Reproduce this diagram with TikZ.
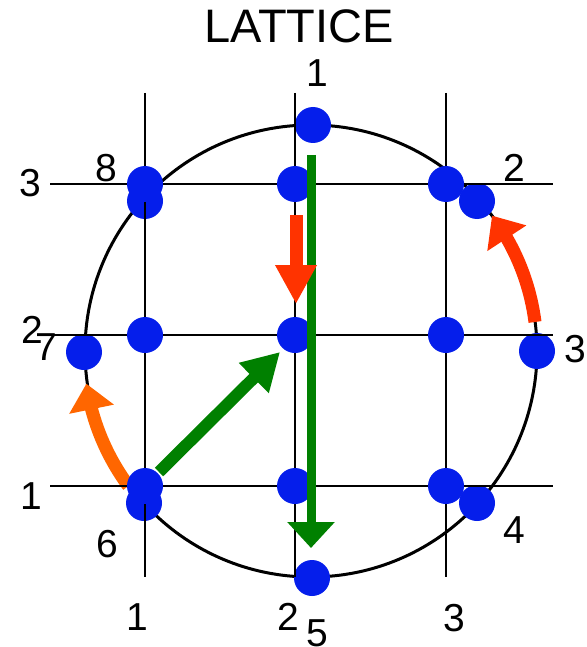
\documentclass[tikz,border=0pt]{standalone}
\usepackage{fontspec}
\setmainfont{Liberation Sans}
\usetikzlibrary{arrows.meta, bending}

\definecolor{siteblue}{RGB}{5,30,235}
\definecolor{arrgreen}{RGB}{0,128,0}
\definecolor{arrred}{RGB}{255,51,0}
\definecolor{arrorange}{RGB}{255,102,0}

\begin{document}
\begin{tikzpicture}[x=1pt, y=-1pt,
    every node/.style={font=\fontsize{39}{39}\selectfont, inner sep=0pt},
    site/.style={circle, fill=siteblue, minimum size=36pt},
    gridline/.style={line width=2pt},
    ring/.style={line width=3pt}]
  \useasboundingbox (0,0) rectangle (586,647);

  % circle and hops along it
  \draw[ring] (311,351) circle[radius=226];
  \coordinate (rstart) at (535,322);
  \coordinate (ostart) at (128.5,486);
  \draw[line width=13pt, arrred, -{Triangle[length=27pt, width=45pt]}] (rstart) arc[start angle=-7.3, end angle=-36.7, radius=226];
  \draw[line width=13pt, arrorange, -{Triangle[length=26pt, width=44pt]}] (ostart) arc[start angle=143.5, end angle=171.7, radius=227];

  % points on the circle
  \node[site] (c1) at (313,125) {};
  \node[site] (c2) at (477,201) {};
  \node[site] (c3) at (537,351) {};
  \node[site] (c4) at (477,503) {};
  \node[site] (c5) at (312,578) {};
  \node[site] (c6) at (144,503) {};
  \node[site] (c7) at (84,352) {};
  \node[site] (c8) at (145,201) {};

  % lattice
  \foreach \x in {145,295,446} \draw[gridline] (\x,93) -- (\x,577);
  \foreach \y in {184,335,486} \draw[gridline] (50,\y) -- (553,\y);
  \foreach \x/\i in {145/1,295/2,446/3}
    \foreach \y/\j in {486/1,335/2,184/3}
      \node[site] (s\i\j) at (\x,\y) {};

  % moves
  \coordinate (gtop) at (311,155);
  \coordinate (gbot) at (311,548);
  \coordinate (rtop) at (296,215);
  \coordinate (rbot) at (296,304);
  \coordinate (dstart) at (159,472);
  \coordinate (dend) at (280,352);
  \draw[line width=9pt, arrgreen, -{Triangle[length=26pt, width=46pt]}] (gtop) -- (gbot);
  \draw[line width=13pt, arrred, -{Triangle[length=39pt, width=39pt]}] (rtop) -- (rbot);
  \draw[line width=12pt, arrgreen, -{Triangle[length=37pt, width=40pt]}] (dstart) -- (dend);

  % labels
  \node[font=\fontsize{47}{47}\selectfont] (title) at (299,26) {LATTICE};
  \node (xl1) at (137,617) {1};
  \node (xl2) at (288,617) {2};
  \node (xl3) at (454,618) {3};
  \node (yl1) at (31,496) {1};
  \node (yl2) at (32,330) {2};
  \node (yl3) at (30,183) {3};
  \node (cl1) at (317,73) {1};
  \node (cl2) at (514,168) {2};
  \node (cl3) at (575,349) {3};
  \node (cl4) at (514,530) {4};
  \node (cl5) at (317,633) {5};
  \node (cl6) at (107,544) {6};
  \node (cl7) at (46,347) {7};
  \node (cl8) at (106,168) {8};
\end{tikzpicture}
\end{document}
